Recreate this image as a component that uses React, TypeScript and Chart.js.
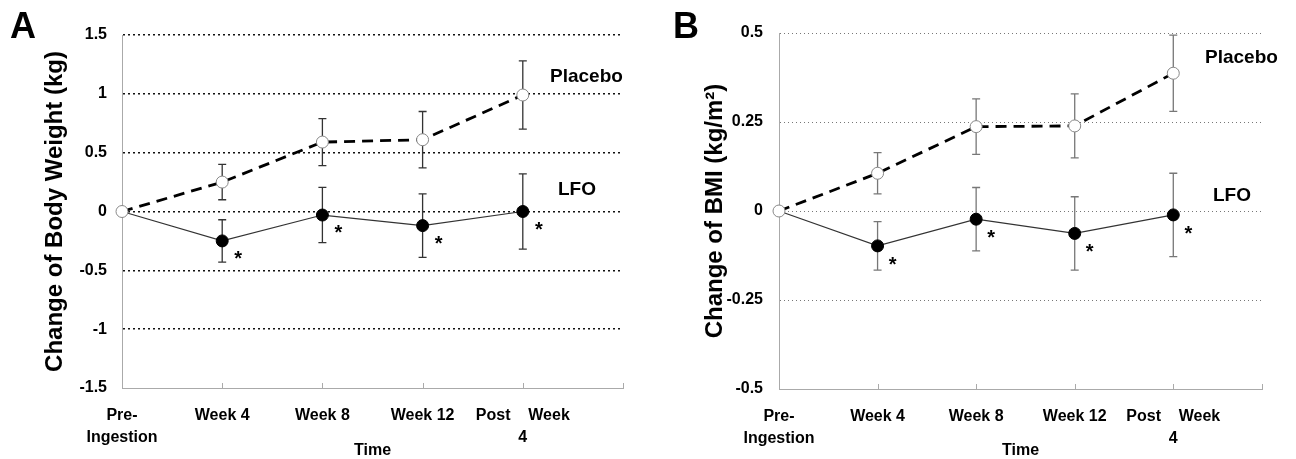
import React, { useEffect, useRef } from 'react';
import { Chart, registerables } from 'chart.js';

Chart.register(...registerables);

const FONT = "'Liberation Sans', Arial, Helvetica, sans-serif";

// ---- data ----
const categories: string[][] = [['Pre-', 'Ingestion'], ['Week 4'], ['Week 8'], ['Week 12'], ['Post    Week', '4']];
const significant = [false, true, true, true, true];

const weightTicks = [-1.5, -1, -0.5, 0, 0.5, 1, 1.5];
const weightPlacebo = [0, 0.25, 0.59, 0.61, 0.99];
const weightPlaceboErr = [0, 0.15, 0.2, 0.24, 0.29];
const weightLFO = [0, -0.25, -0.03, -0.12, 0.0];
const weightLFOErr = [0, 0.18, 0.235, 0.27, 0.32];

const bmiTicks = [-0.5, -0.25, 0, 0.25, 0.5];
const bmiPlacebo = [0, 0.106, 0.237, 0.239, 0.387];
const bmiPlaceboErr = [0, 0.058, 0.078, 0.09, 0.107];
const bmiLFO = [0, -0.098, -0.023, -0.063, -0.011];
const bmiLFOErr = [0, 0.068, 0.089, 0.103, 0.117];

type Cfg = {
  letter: string;
  yTitle: string;
  yTicks: number[];
  placebo: number[];
  placeboErr: number[];
  lfo: number[];
  lfoErr: number[];
  left: number;
  width: number;
  padTop: number;
  padRight: number;
  yAxisW: number;
  xAxisH: number;
  xMax: number;
  yTitlePad: number;
  yTickPad: number;
  gridColor: string;
  gridWidth: number;
  gridDash: number[];
  errColor: string;
  letterX: number;
  placeboLabel: { dx: number; y: number };
  lfoLabel: { dx: number; y: number };
  star: { dx: number; dy: number };
};

const panels: Cfg[] = [
  {
    letter: 'A',
    yTitle: 'Change of Body Weight (kg)',
    yTicks: weightTicks,
    placebo: weightPlacebo,
    placeboErr: weightPlaceboErr,
    lfo: weightLFO,
    lfoErr: weightLFOErr,
    left: 0,
    width: 640,
    padTop: 35,
    padRight: 17,
    yAxisW: 122,
    xAxisH: 71,
    xMax: 5,
    yTitlePad: 43,
    yTickPad: 15,
    gridColor: '#111',
    gridWidth: 1.6,
    gridDash: [2, 3],
    errColor: '#333',
    letterX: 10,
    placeboLabel: { dx: -73, y: 1.144 },
    lfoLabel: { dx: -65, y: 0.186 },
    star: { dx: 16, dy: 13 },
  },
  {
    letter: 'B',
    yTitle: 'Change of BMI (kg/m\u00B2)',
    yTicks: bmiTicks,
    placebo: bmiPlacebo,
    placeboErr: bmiPlaceboErr,
    lfo: bmiLFO,
    lfoErr: bmiLFOErr,
    left: 640,
    width: 656,
    padTop: 33,
    padRight: 34,
    yAxisW: 139,
    xAxisH: 70,
    xMax: 4.9,
    yTitlePad: 63,
    yTickPad: 16,
    gridColor: '#777',
    gridWidth: 1,
    gridDash: [1, 3],
    errColor: '#777',
    letterX: 33,
    placeboLabel: { dx: -57, y: 0.43 },
    lfoLabel: { dx: -49, y: 0.042 },
    star: { dx: 15, dy: 14 },
  },
];

function Panel({ cfg }: { cfg: Cfg }) {
  const ref = useRef<HTMLCanvasElement>(null);

  useEffect(() => {
    const canvas = ref.current;
    if (!canvas) return;
    const yMin = Math.min(...cfg.yTicks);
    const yMax = Math.max(...cfg.yTicks);

    const extras = {
      id: 'panelExtras',
      beforeDatasetsDraw(chart: any) {
        const ctx = chart.ctx;
        const xs = chart.scales.x;
        const ys = chart.scales.y;
        ctx.save();
        ctx.strokeStyle = cfg.errColor;
        ctx.lineWidth = 1.3;
        const series: [number[], number[]][] = [
          [cfg.placebo, cfg.placeboErr],
          [cfg.lfo, cfg.lfoErr],
        ];
        series.forEach(([vals, errs]) => {
          vals.forEach((v, i) => {
            const e = errs[i];
            if (!e) return;
            const x = xs.getPixelForValue(i);
            const yt = ys.getPixelForValue(v + e);
            const yb = ys.getPixelForValue(v - e);
            ctx.beginPath();
            ctx.moveTo(x, yt);
            ctx.lineTo(x, yb);
            ctx.moveTo(x - 4, yt);
            ctx.lineTo(x + 4, yt);
            ctx.moveTo(x - 4, yb);
            ctx.lineTo(x + 4, yb);
            ctx.stroke();
          });
        });
        ctx.restore();
      },
      afterDatasetsDraw(chart: any) {
        const ctx = chart.ctx;
        const xs = chart.scales.x;
        const ys = chart.scales.y;
        const area = chart.chartArea;
        ctx.save();
        // upward tick marks on the x axis
        ctx.strokeStyle = '#aaa';
        ctx.lineWidth = 1;
        const tickXs = categories.map((_, i) => xs.getPixelForValue(i)).slice(1);
        tickXs.push(area.right);
        tickXs.forEach((x) => {
          const px = Math.round(x) + 0.5;
          ctx.beginPath();
          ctx.moveTo(px, area.bottom);
          ctx.lineTo(px, area.bottom - 5);
          ctx.stroke();
        });
        // significance asterisks
        ctx.fillStyle = '#000';
        ctx.font = `bold 20px ${FONT}`;
        ctx.textAlign = 'center';
        ctx.textBaseline = 'alphabetic';
        cfg.lfo.forEach((v, i) => {
          if (!significant[i]) return;
          const x = xs.getPixelForValue(i) + cfg.star.dx;
          const y = ys.getPixelForValue(v) + cfg.star.dy + 11;
          ctx.fillText('*', x, y);
        });
        // series labels
        ctx.font = `bold 19px ${FONT}`;
        ctx.textAlign = 'left';
        ctx.textBaseline = 'middle';
        ctx.fillText('Placebo', area.right + cfg.placeboLabel.dx, ys.getPixelForValue(cfg.placeboLabel.y));
        ctx.fillText('LFO', area.right + cfg.lfoLabel.dx, ys.getPixelForValue(cfg.lfoLabel.y));
        // panel letter
        ctx.font = `bold 36px ${FONT}`;
        ctx.textBaseline = 'alphabetic';
        ctx.fillText(cfg.letter, cfg.letterX, 38);
        ctx.restore();
      },
    };

    const chart = new Chart(canvas, {
      type: 'line',
      data: {
        datasets: [
          {
            label: 'Placebo',
            data: cfg.placebo.map((v, i) => ({ x: i, y: v })),
            borderColor: '#000',
            borderWidth: 2.8,
            borderDash: [11, 7],
            pointRadius: 6,
            pointBackgroundColor: '#fff',
            pointBorderColor: '#888',
            pointBorderWidth: 1,
            tension: 0,
            clip: false,
          } as any,
          {
            label: 'LFO',
            data: cfg.lfo.map((v, i) => ({ x: i, y: v })),
            borderColor: '#333',
            borderWidth: 1.2,
            pointRadius: cfg.lfo.map((_, i) => (i === 0 ? 0 : 6)),
            pointBackgroundColor: '#000',
            pointBorderColor: '#000',
            pointBorderWidth: 1,
            tension: 0,
            clip: false,
          } as any,
        ],
      },
      options: {
        responsive: false,
        animation: false,
        devicePixelRatio: 1,
        events: [],
        layout: { padding: { left: 0, top: cfg.padTop, right: cfg.padRight, bottom: 0 } },
        plugins: {
          legend: { display: false },
          tooltip: { enabled: false },
          title: { display: false },
        },
        scales: {
          x: {
            type: 'linear',
            min: 0,
            max: cfg.xMax,
            afterBuildTicks: (s: any) => {
              s.ticks = categories.map((_, i) => ({ value: i }));
            },
            afterFit: (s: any) => {
              s.height = cfg.xAxisH;
            },
            ticks: {
              callback: (v: any) => categories[v as number] ?? '',
              autoSkip: false,
              maxRotation: 0,
              minRotation: 0,
              padding: 17,
              color: '#000',
              font: { family: FONT, size: 16, weight: 'bold', lineHeight: 1.375 },
            },
            grid: { display: true, drawOnChartArea: false, drawTicks: false },
            border: { display: true, color: '#aaa', width: 1 },
            title: {
              display: true,
              text: 'Time',
              color: '#000',
              font: { family: FONT, size: 16, weight: 'bold', lineHeight: 1 },
              padding: { top: 0, bottom: 0 },
            },
          },
          y: {
            type: 'linear',
            min: yMin,
            max: yMax,
            afterBuildTicks: (s: any) => {
              s.ticks = cfg.yTicks.map((v) => ({ value: v }));
            },
            afterFit: (s: any) => {
              s.width = cfg.yAxisW;
            },
            ticks: {
              callback: (v: any) => String(v),
              padding: cfg.yTickPad,
              color: '#000',
              font: { family: FONT, size: 16, weight: 'bold' },
            },
            grid: {
              drawTicks: false,
              color: (c: any) => (c.tick && c.tick.value === yMin ? 'rgba(0,0,0,0)' : cfg.gridColor),
              lineWidth: cfg.gridWidth,
            },
            border: { display: true, color: '#aaa', width: 1, dash: cfg.gridDash },
            title: {
              display: true,
              text: cfg.yTitle,
              color: '#000',
              font: { family: FONT, size: 24, weight: 'bold', lineHeight: 1 },
              padding: { top: cfg.yTitlePad, bottom: 0 },
            },
          },
        },
      } as any,
      plugins: [extras],
    });
    return () => chart.destroy();
  }, [cfg]);

  return (
    <canvas
      ref={ref}
      width={cfg.width}
      height={459}
      style={{ position: 'absolute', left: cfg.left, top: 0, width: cfg.width, height: 459 }}
    />
  );
}

export default function App() {
  return (
    <div style={{ position: 'absolute', left: 0, top: 0, width: 1296, height: 459, background: '#fff' }}>
      {panels.map((p) => (
        <Panel key={p.letter} cfg={p} />
      ))}
    </div>
  );
}
